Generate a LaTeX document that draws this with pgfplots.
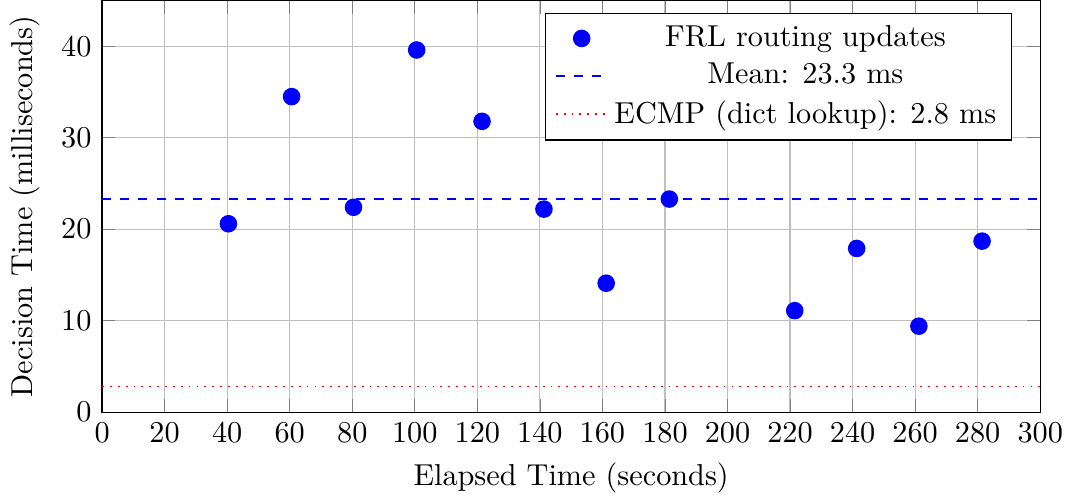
\documentclass[border=0pt]{standalone}
\usepackage{pgfplots}
\pgfplotsset{compat=1.18}

\begin{document}
\begin{tikzpicture}
\begin{axis}[
  scale only axis,
  width=310pt,
  height=136pt,
  xmin=0, xmax=300,
  ymin=0, ymax=45,
  xtick={0,20,...,300},
  ytick={0,10,20,30,40},
  xlabel={Elapsed Time (seconds)},
  ylabel={Decision Time (milliseconds)},
  grid=major,
  legend pos=north east,
  legend cell align=center,
]
\addplot[only marks, mark=*, color=blue, mark size=2.7pt] coordinates {
  (40.4,20.6) (60.6,34.5) (80.4,22.4) (100.6,39.6) (121.5,31.8)
  (141.3,22.2) (161.2,14.1) (181.4,23.3) (221.5,11.1) (241.3,17.9)
  (261.2,9.4) (281.4,18.7)
};
\addlegendentry{FRL routing updates}
\addplot[blue, dashed, semithick] coordinates {(0,23.3) (300,23.3)};
\addlegendentry{Mean: 23.3 ms}
\addplot[red, dotted, semithick] coordinates {(0,2.8) (300,2.8)};
\addlegendentry{ECMP (dict lookup): 2.8 ms}
\end{axis}
\end{tikzpicture}
\end{document}
